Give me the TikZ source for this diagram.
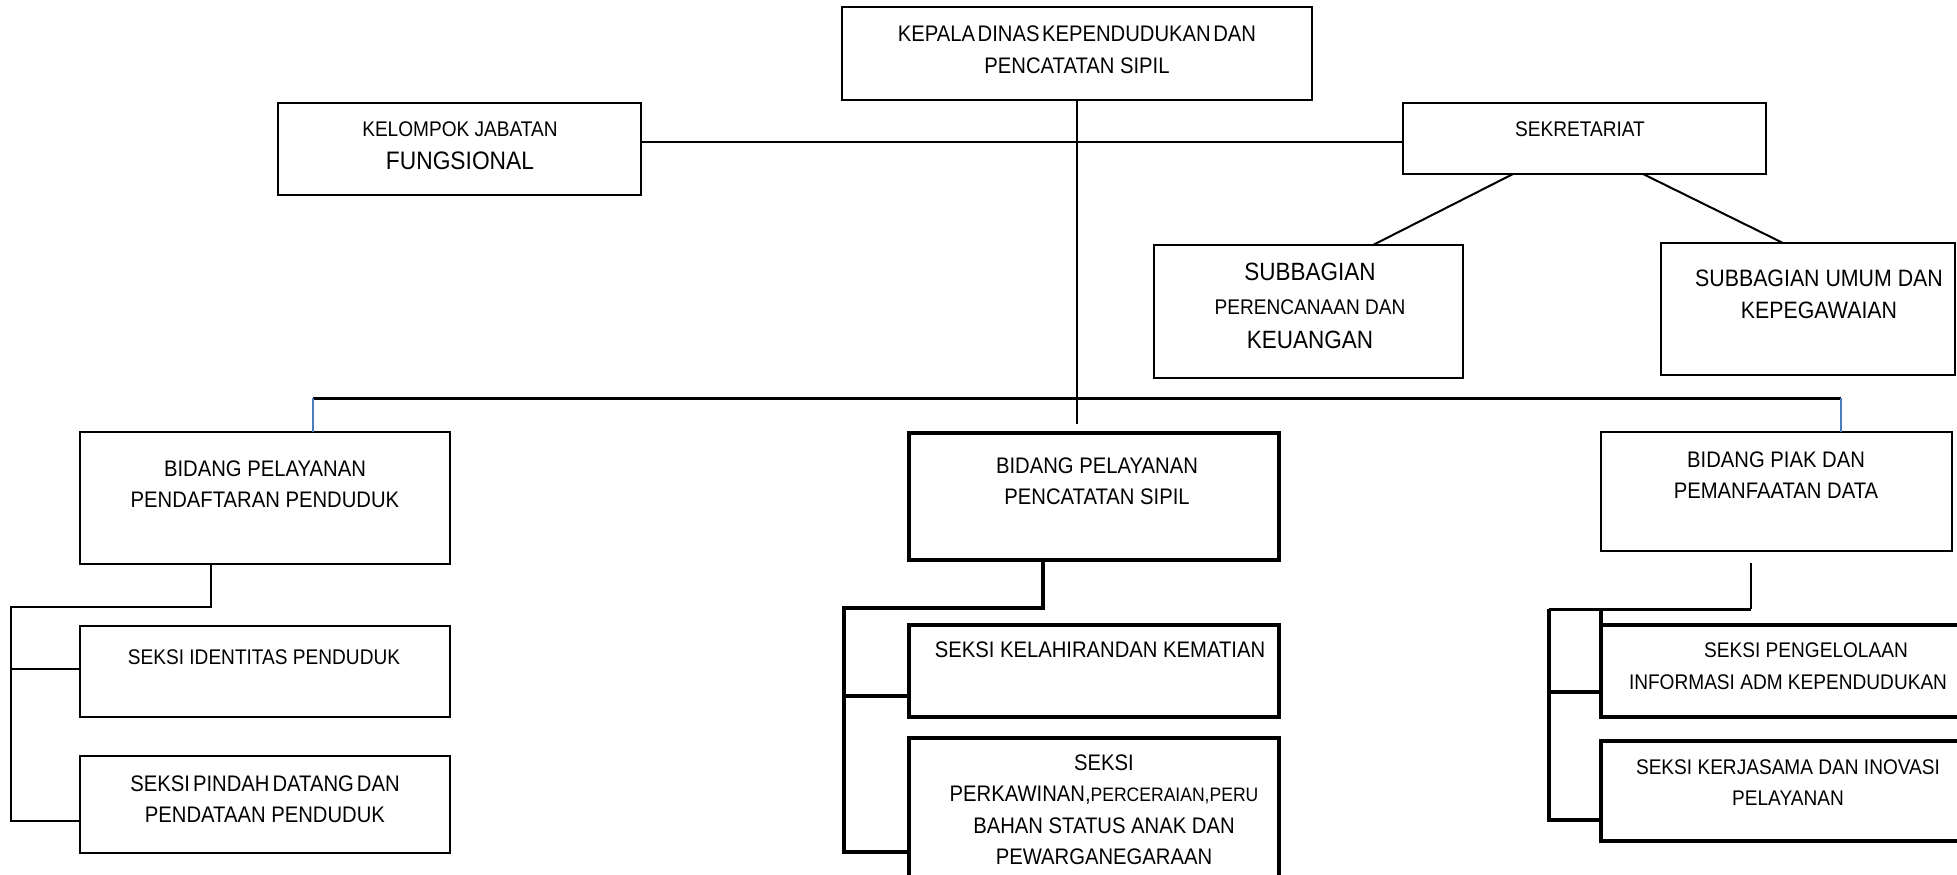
\documentclass[tikz,border=0pt]{standalone}
\usepackage{fontspec}
\setmainfont{Liberation Sans}[FakeStretch=0.9]

\definecolor{dropblue}{RGB}{74,126,187}

\tikzset{
  box/.style={draw, line width=2.7pt, inner sep=0pt, outer sep=0pt},
  boldbox/.style={box, line width=4pt},
  lbl/.style={align=center, inner sep=0pt, font=\fontsize{22.5}{31.5}\selectfont},
  lblsmall/.style={lbl, font=\fontsize{21.2}{31.5}\selectfont},
  link/.style={line width=2.7pt},
  boldlink/.style={line width=3.7pt},
  drop/.style={line width=1.3pt, draw=dropblue},
}

\begin{document}
\begin{tikzpicture}[x=1pt, y=-1pt]
\useasboundingbox (0,0) rectangle (1957,875);
\clip (0,0) rectangle (1957,875);

% kepala dinas, jabatan fungsional, sekretariat
\node[box, minimum width=470, minimum height=93] (kadis) at (1077,53.5) {};
\node[lbl] (kadisT) at (1077,50) {{\spaceskip=2.5pt KEPALA DINAS KEPENDUDUKAN DAN}\\PENCATATAN SIPIL};
\node[box, minimum width=363, minimum height=92] (kjf) at (459.5,149) {};
\node[lblsmall, font=\fontsize{21.2}{33}\selectfont] (kjfT) at (460,145.5)
  {KELOMPOK JABATAN\\{\fontsize{25.3}{33}\selectfont FUNGSIONAL}};
\node[box, minimum width=363, minimum height=71] (sek) at (1584.5,138.5) {};
\node[lblsmall] (sekT) at (1580,129) {SEKRETARIAT};

% subbagian
\node[box, minimum width=309, minimum height=133] (spk) at (1308.5,311.5) {};
\node[lbl, font=\fontsize{25}{34}\selectfont] (spkT) at (1310,306)
  {SUBBAGIAN\\{\fontsize{21.2}{34}\selectfont PERENCANAAN DAN}\\KEUANGAN};
\node[box, minimum width=294, minimum height=132] (suk) at (1808,309) {};
\node[lbl, font=\fontsize{23.7}{32}\selectfont] (sukT) at (1819,294) {SUBBAGIAN UMUM DAN\\KEPEGAWAIAN};

% bidang pendaftaran penduduk
\node[box, minimum width=370, minimum height=132] (bpp) at (265,498) {};
\node[lbl] (bppT) at (265,484) {BIDANG PELAYANAN\\PENDAFTARAN PENDUDUK};
\node[box, minimum width=370, minimum height=91] (sip) at (265,671.5) {};
\node[lblsmall] (sipT) at (264,657) {SEKSI IDENTITAS PENDUDUK};
\node[box, minimum width=370, minimum height=97] (spdp) at (265,804.5) {};
\node[lbl] (spdpT) at (265,799) {{\spaceskip=3pt SEKSI PINDAH DATANG DAN}\\PENDATAAN PENDUDUK};

% bidang pencatatan sipil
\node[boldbox, minimum width=370, minimum height=127] (bpcs) at (1094,496.5) {};
\node[lbl] (bpcsT) at (1097,481) {BIDANG PELAYANAN\\PENCATATAN SIPIL};
\node[boldbox, minimum width=370, minimum height=92] (skk) at (1094,671) {};
\node[lbl] (skkT) at (1100,650) {SEKSI KELAHIRANDAN KEMATIAN};
\node[boldbox, minimum width=370, minimum height=142] (sppsp) at (1094,809) {};
\node[lbl] (sppspT) at (1104,809.5)
  {SEKSI\\PERKAWINAN,{\fontsize{19.5}{31.5}\selectfont PERCERAIAN,PERU}\\BAHAN STATUS ANAK DAN\\PEWARGANEGARAAN};

% bidang piak
\node[box, minimum width=351, minimum height=119] (bpd) at (1776.5,491.5) {};
\node[lbl] (bpdT) at (1776,475) {BIDANG PIAK DAN\\PEMANFAATAN DATA};
\node[boldbox, minimum width=364, minimum height=92] (spiak) at (1783,671) {};
\node[lblsmall] (spiakT) at (1788,666) {\hspace*{36pt}SEKSI PENGELOLAAN\\INFORMASI ADM KEPENDUDUKAN};
\node[boldbox, minimum width=364, minimum height=100] (kerja) at (1783,791) {};
\node[lblsmall] (kerjaT) at (1788,782.5) {SEKSI KERJASAMA DAN INOVASI\\PELAYANAN};

% garis atas
\coordinate (stem) at (1077,424);
\coordinate (mid) at (1077,142);
\draw[link] (kadis.south) -- (stem);
\draw[line width=2pt] (kjf.east |- mid) -- (sek.west |- mid);
\draw[line width=2pt] ([xshift=-71.5]sek.south) -- ([xshift=64.5]spk.north);
\draw[line width=2pt] ([xshift=58.5]sek.south) -- ([xshift=-25]suk.north);

% garis bidang
\coordinate (busL) at (313,398);
\coordinate (busR) at (1841,398);
\draw[line width=3pt] (busL) -- (busR);
\draw[drop] (busL) -- (busL |- bpp.north);
\draw[drop] (busR) -- (busR |- bpd.north);

% seksi kiri
\coordinate (lb0) at (11,607);
\coordinate (lb1) at (11,669);
\coordinate (lb2) at (11,821);
\draw[link] ([xshift=-54]bpp.south) |- (lb0) -- (lb2) -- (spdp.west |- lb2);
\draw[link] (lb1) -- (sip.west |- lb1);

% seksi tengah
\coordinate (mb0) at (844,608);
\coordinate (mb1) at (844,696);
\coordinate (mb2) at (844,852);
\draw[boldlink] ([xshift=-51]bpcs.south) |- (mb0) -- (mb2) -- (sppsp.west |- mb2);
\draw[boldlink] (mb1) -- (skk.west |- mb1);

% seksi kanan
\coordinate (rtop) at (1751,563);
\coordinate (rb0) at (1549,609);
\coordinate (rb1) at (1549,692);
\coordinate (rb2) at (1549,820);
\draw[line width=2.2pt] (rtop) -- (rtop |- rb0);
\draw[line width=3pt] (rtop |- rb0) -- (rb0);
\draw[boldlink] (rb0) -- (rb2) -- (kerja.west |- rb2);
\draw[boldlink] (rb1) -- (spiak.west |- rb1);
\draw[boldlink] (spiak.north west) -- (spiak.west |- rb0);
\end{tikzpicture}
\end{document}
